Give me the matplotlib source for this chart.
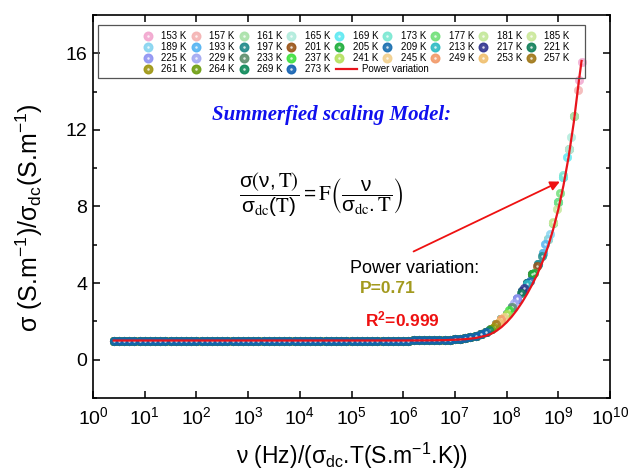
import matplotlib
matplotlib.use("Agg")
import matplotlib.pyplot as plt
from matplotlib.lines import Line2D
from matplotlib.patches import Rectangle

plt.rcParams['font.family'] = ['Liberation Sans', 'DejaVu Sans']
plt.rcParams['mathtext.fontset'] = 'custom'
plt.rcParams['mathtext.rm'] = 'Liberation Sans'
plt.rcParams['mathtext.it'] = 'Liberation Sans:italic'
plt.rcParams['mathtext.bf'] = 'Liberation Sans:bold'
plt.rcParams['mathtext.default'] = 'regular'

# temperatures (K) and their ball colours
temps = [153, 157, 161, 165, 169, 173, 177, 181, 185,
         189, 193, 197, 201, 205, 209, 213, 217, 221,
         225, 229, 233, 237, 241, 245, 249, 253, 257,
         261, 264, 269, 273]
colors = ['#f2a7cf', '#f4b3b3', '#a9e2a9', '#b1ecdc', '#5fe9f2', '#7be8d2', '#72e07a', '#c4e89a', '#cbe89a',
          '#86d4f0', '#55b4f2', '#1f8a8a', '#9a5518', '#1fae3c', '#1a6fb0', '#2fbcc4', '#32358f', '#12805a',
          '#8f93f2', '#a3a9f2', '#5e8f6e', '#3fe03f', '#b5e05e', '#f2d08e', '#f29a6a', '#f0c070', '#a07818',
          '#9e9612', '#6e9e12', '#0e8a5a', '#1462b2']

# last point of each series (log10 of scaled frequency, ratio)
end_log = [9.45, 9.38, 9.31, 9.24, 9.16, 9.10, 9.03, 8.98, 8.90,
           8.83, 8.75, 8.68, 8.59, 8.53, 8.45, 8.39, 8.33, 8.27,
           8.21, 8.15, 8.10, 8.05, 8.00, 7.95, 7.90, 7.85, 7.80,
           7.75, 7.70, 7.65, 7.60]
end_ratio = [15.55, 14.08, 12.74, 11.62, 10.58, 9.63, 8.68, 7.88, 7.18,
             6.55, 6.03, 5.39, 4.90, 4.55, 4.12, 3.96, 3.72, 3.46,
             3.20, 2.95, 2.75, 2.57, 2.40, 2.25, 2.10, 1.97, 1.85,
             1.73, 1.62, 1.53, 1.45]

# common master curve (log10 of scaled frequency, sigma/sigma_dc)
log_nu = [0.4, 0.5, 0.6, 0.7, 0.8, 0.9, 1.0, 1.1, 1.2, 1.3, 1.4, 1.5, 1.6, 1.7, 1.8, 1.9,
          2.0, 2.1, 2.2, 2.3, 2.4, 2.5, 2.6, 2.7, 2.8, 2.9, 3.0, 3.1, 3.2, 3.3, 3.4, 3.5,
          3.6, 3.7, 3.8, 3.9, 4.0, 4.1, 4.2, 4.3, 4.4, 4.5, 4.6, 4.7, 4.8, 4.9, 5.0, 5.1,
          5.2, 5.3, 5.4, 5.5, 5.6, 5.7, 5.8, 5.9, 6.0, 6.1, 6.2, 6.3, 6.4, 6.5, 6.6, 6.7,
          6.8, 6.9, 7.0, 7.1, 7.2, 7.3, 7.4, 7.5, 7.6, 7.7, 7.8, 7.9, 8.0, 8.1, 8.2, 8.3,
          8.4, 8.5, 8.6, 8.7, 8.8, 8.9, 9.0, 9.1, 9.2, 9.3, 9.4]
ratio = [1.0] * 56 + [1.00, 1.00, 1.01, 1.01, 1.01, 1.02, 1.02, 1.03,
                      1.04, 1.05, 1.07, 1.09, 1.12, 1.17, 1.24, 1.33, 1.45, 1.62, 1.85, 2.10,
                      2.40, 2.75, 3.15, 3.60, 4.00, 4.50, 5.00, 5.55, 6.30, 7.15, 8.25, 9.55,
                      11.0, 12.7, 14.6]

# power-law fit line
fit_log = [0.4, 5.0, 6.0, 6.5, 6.8, 7.0, 7.2, 7.4, 7.6, 7.7, 7.8, 7.9, 8.0, 8.1,
           8.2, 8.3, 8.4, 8.5, 8.6, 8.7, 8.8, 8.9, 9.0, 9.1, 9.2, 9.3, 9.4, 9.45]
fit_ratio = [1.0, 1.0, 1.0, 1.01, 1.02, 1.04, 1.07, 1.13, 1.25, 1.35, 1.5, 1.7, 1.95, 2.25,
             2.6, 3.0, 3.45, 3.95, 4.5, 5.15, 5.9, 6.8, 7.85, 9.1, 10.6, 12.4, 14.6, 15.6]

W, H = 629, 473
fig = plt.figure(figsize=(6.29, 4.73), dpi=100)
ax = fig.add_axes([0.1479, 0.1586, 0.8219, 0.8097])

handles = []
for T, c, le, re in zip(temps, colors, end_log, end_ratio):
    xs = [10 ** v for v in log_nu if v < le - 0.005] + [10 ** le]
    ys = [r for v, r in zip(log_nu, ratio) if v < le - 0.005] + [re]
    ax.plot(xs, ys, 'o', ms=6.2, mfc=c, mec=c, mew=0.3, alpha=0.85)
    ax.plot(xs, ys, 'o', ms=1.8, mfc='white', mec='none', alpha=0.75)
    h1 = Line2D([], [], ls='none', marker='o', ms=6.2, mfc=c, mec=c, alpha=0.9)
    h2 = Line2D([], [], ls='none', marker='o', ms=1.8, mfc='white', mec='none', alpha=0.8)
    handles.append(((h1, h2), '%d K' % T))

line, = ax.plot([10 ** v for v in fit_log], fit_ratio, '-', color='#e8141c', lw=1.6)

ax.set_xscale('log')
ax.set_xlim(1, 1e10)
ax.set_ylim(-2, 18)
ax.set_xticks([10 ** k for k in range(11)])
ax.xaxis.set_minor_locator(matplotlib.ticker.NullLocator())
ax.set_yticks([0, 4, 8, 12, 16])
ax.set_yticks([-2, 2, 6, 10, 14, 18], minor=True)
ax.tick_params(which='both', direction='in', top=True, right=True, width=1.1)
ax.tick_params(which='major', length=5, labelsize=14)
ax.tick_params(axis='x', pad=6)
ax.tick_params(axis='y', pad=4)
ax.tick_params(which='minor', length=3)
for s in ax.spines.values():
    s.set_linewidth(1.2)

ax.set_xlabel(r'ν (Hz)/(σ$_{dc}$.T(S.m$^{-1}$.K))', fontsize=16.5, labelpad=9)
ax.set_ylabel(r'σ (S.m$^{-1}$)/σ$_{dc}$(S.m$^{-1}$)', fontsize=18)
ax.yaxis.set_label_coords(-0.092, 0.47)

# legend, row-major like the original (9 columns)
order = []
for col in range(9):
    for row in range(4 if col < 4 else 3):
        order.append(row * 9 + col)
leg = ax.legend([handles[i][0] for i in order], [handles[i][1] for i in order],
                ncol=9, fontsize=7, frameon=False, loc='upper left',
                bbox_to_anchor=(140 / W, 1 - 31 / H), bbox_transform=fig.transFigure,
                borderpad=0, handlelength=1.6, handletextpad=0.6, columnspacing=0.1,
                labelspacing=0.1, borderaxespad=0)
ax.add_artist(leg)
ax.legend([line], ['Power variation'], fontsize=7, frameon=False, loc='upper left',
          bbox_to_anchor=(336 / W, 1 - 64 / H), bbox_transform=fig.transFigure,
          borderpad=0, handlelength=2.2, handletextpad=0.5, borderaxespad=0)
ax.add_patch(Rectangle(((97.5 - 93) / 517, (398 - 78) / 383), 487 / 517, 53 / 383,
                       transform=ax.transAxes, fill=False, ec='#555555', lw=0.9, zorder=5))

ax.text(0.461, 0.739, 'Summerfied scaling Model:', transform=ax.transAxes,
        ha='center', va='center', fontsize=15, color='#1010ee',
        family='Liberation Serif', weight='bold', style='italic')
ax.text(0.441, 0.53,
        r'$\dfrac{\sigma\left(\nu,\mathrm{T}\right)}{\sigma_{\mathrm{dc}}(\mathrm{T})}'
        r'=\mathrm{F}\left(\dfrac{\nu}{\sigma_{\mathrm{dc}}.\mathrm{T}}\right)$',
        transform=ax.transAxes, ha='center', va='center', fontsize=15, math_fontfamily='stix')
ax.text(0.497, 0.339, 'Power variation:', transform=ax.transAxes,
        ha='left', va='center', fontsize=13)
ax.text(0.516, 0.285, 'P=0.71', transform=ax.transAxes,
        ha='left', va='center', fontsize=12.5, color='#a39a1e', weight='bold')
ax.text(0.526, 0.205, r'R$^\mathbf{2}$=0.999', transform=ax.transAxes,
        ha='left', va='center', fontsize=12.5, color='#ee1111', weight='bold')

ax.annotate('', xy=(10 ** 9.03, 9.3), xytext=(10 ** 6.2, 5.65),
            arrowprops=dict(arrowstyle='-|>', color='#ee1111', lw=1.3,
                            mutation_scale=14, shrinkA=0, shrinkB=0))

fig.savefig('out.png', dpi=100)
